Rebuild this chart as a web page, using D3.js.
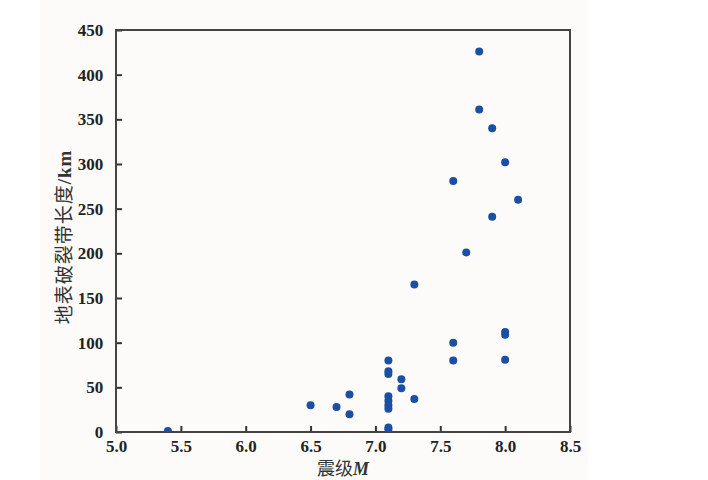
<!DOCTYPE html>
<html>
<head>
<meta charset="utf-8">
<script src="https://cdn.jsdelivr.net/npm/d3@7"></script>
<style>
  body { margin: 0; background: #ffffff; }
  svg { display: block; }
</style>
</head>
<body>
<div id="chart"></div>
<script>
/* DATA */
const magnitude = [5.4, 6.5, 6.7, 6.8, 6.8, 7.1, 7.1, 7.1, 7.1, 7.1, 7.1, 7.1, 7.1, 7.1,
  7.2, 7.2, 7.3, 7.3, 7.6, 7.6, 7.6, 7.7, 7.8, 7.8, 7.9, 7.9, 8.0, 8.0, 8.0, 8.0, 8.1];
const ruptureLength = [1, 30, 28, 42, 20, 80, 68, 65, 40, 35, 30, 26, 5, 3,
  59, 49, 37, 165, 100, 80, 281, 201, 426, 361, 340, 241, 302, 112, 109, 81, 260];
const xTicks = [5.0, 5.5, 6.0, 6.5, 7.0, 7.5, 8.0, 8.5];
const yTicks = [0, 50, 100, 150, 200, 250, 300, 350, 400, 450];

/* CONSTANTS */
const width = 708, height = 480,
  margin = { top: 30, bottom: 48, left: 116, right: 138 };

const points = magnitude.map((m, i) => ({ m: m, len: ruptureLength[i] }));

const svg = d3.select("#chart")
  .append("svg")
  .attr("width", width)
  .attr("height", height);

// faint paper tone behind the figure
svg.append("rect")
  .attr("x", 40).attr("y", 0)
  .attr("width", 548).attr("height", height)
  .attr("fill", "#fcfbf9");

const xScale = d3.scaleLinear()
  .domain([5.0, 8.5])
  .range([margin.left, width - margin.right]);

const yScale = d3.scaleLinear()
  .domain([0, 450])
  .range([height - margin.bottom, margin.top]);

const serif = "'Liberation Serif', 'DejaVu Serif', serif";

// clip so the dot at the baseline is cut by the axis
svg.append("clipPath")
  .attr("id", "plot-clip")
  .append("rect")
  .attr("x", margin.left)
  .attr("y", margin.top)
  .attr("width", width - margin.left - margin.right)
  .attr("height", height - margin.top - margin.bottom);

// + AXES (ticks point inward)
const xAxis = d3.axisBottom(xScale)
  .tickValues(xTicks)
  .tickFormat(d3.format(".1f"))
  .tickSizeInner(-6)
  .tickSizeOuter(0)
  .tickPadding(11);

const yAxis = d3.axisLeft(yScale)
  .tickValues(yTicks)
  .tickSizeInner(-6)
  .tickSizeOuter(0)
  .tickPadding(11);

const xAxisGroup = svg.append("g")
  .attr("transform", `translate(0, ${height - margin.bottom})`)
  .call(xAxis);

const yAxisGroup = svg.append("g")
  .attr("transform", `translate(${margin.left}, 0)`)
  .call(yAxis);

[xAxisGroup, yAxisGroup].forEach(g => {
  g.select(".domain").remove();
  g.selectAll(".tick line").attr("stroke", "#333").attr("stroke-width", 2);
  g.selectAll(".tick text")
    .attr("fill", "#222")
    .attr("font-family", serif)
    .attr("font-weight", "bold")
    .attr("font-size", "17px");
});
xAxisGroup.selectAll(".tick text").attr("dy", "0.55em");
yAxisGroup.selectAll(".tick text").attr("dx", "-0.1em");

// frame
svg.append("rect")
  .attr("x", margin.left)
  .attr("y", margin.top)
  .attr("width", width - margin.left - margin.right)
  .attr("height", height - margin.top - margin.bottom)
  .attr("fill", "none")
  .attr("stroke", "#444")
  .attr("stroke-width", 2);

// + POINTS
svg.append("g")
  .attr("clip-path", "url(#plot-clip)")
  .selectAll("circle")
  .data(points)
  .join("circle")
  .attr("cx", d => xScale(d.m))
  .attr("cy", d => yScale(d.len))
  .attr("r", 4)
  .attr("fill", "#1a4fa3");

// + LABELS
const xLabel = svg.append("text")
  .attr("x", (margin.left + width - margin.right) / 2)
  .attr("y", 475)
  .attr("text-anchor", "middle")
  .attr("fill", "#333")
  .attr("font-size", "18px");
xLabel.append("tspan")
  .attr("font-family", "'Noto Sans CJK SC', sans-serif")
  .text("震级");
xLabel.append("tspan")
  .attr("font-family", serif)
  .attr("font-style", "italic")
  .attr("font-weight", "bold")
  .text("M");

const yLabel = svg.append("text")
  .attr("transform", `translate(71, 237) rotate(-90)`)
  .attr("text-anchor", "middle")
  .attr("fill", "#333")
  .attr("letter-spacing", "1px")
  .attr("font-size", "19px");
yLabel.append("tspan")
  .attr("font-family", "'Noto Sans CJK SC', sans-serif")
  .text("地表破裂带长度");
yLabel.append("tspan")
  .attr("font-family", serif)
  .attr("font-weight", "bold")
  .text("/km");
</script>
</body>
</html>
